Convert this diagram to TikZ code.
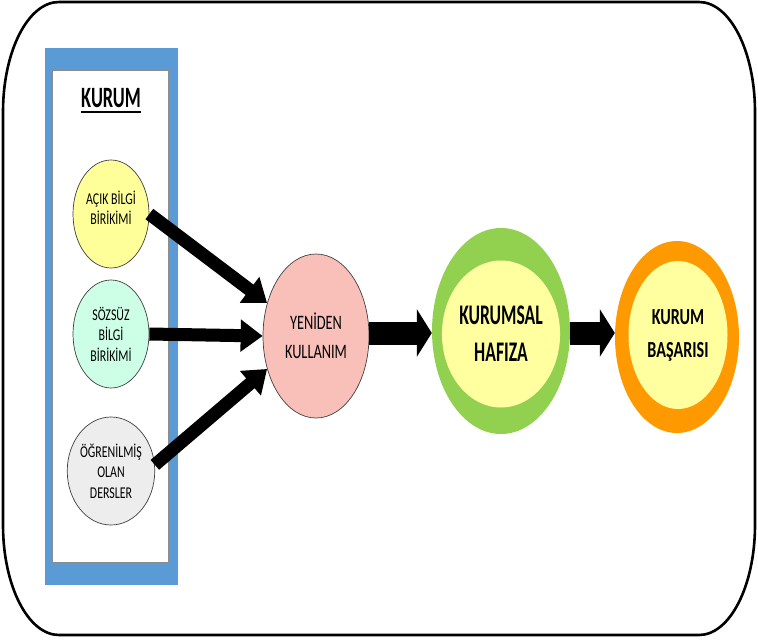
\documentclass[tikz,border=0pt]{standalone}
\usepackage{fontspec}
\usetikzlibrary{arrows.meta,shapes.geometric}
% condensed Carlito cuts for the labels
\newfontfamily\narrowest[FakeStretch=0.62]{Carlito}
\newfontfamily\narrow[FakeStretch=0.70]{Carlito}
\newfontfamily\semi[FakeStretch=0.72]{Carlito}
\definecolor{panelblue}{HTML}{5B9BD5}
\definecolor{paleyellow}{HTML}{FFFF99}
\definecolor{mint}{HTML}{CCFFE6}
\definecolor{lightgrey}{HTML}{EDEDED}
\definecolor{salmon}{HTML}{F8C0B8}
\definecolor{leafgreen}{HTML}{92D050}
\definecolor{amber}{HTML}{FF9900}
\definecolor{cream}{HTML}{FFFFA0}
\begin{document}
\begin{tikzpicture}[x=1pt,y=-1pt,
  frame/.style={line width=2.6pt},
  source/.style={ellipse,draw=black!75,line width=0.7pt,inner sep=0pt,
    minimum width=76pt,minimum height=108pt,align=center,
    font=\semi\fontsize{16.5}{20.5}\selectfont},
  hub/.style={ellipse,draw=black!75,line width=0.7pt,fill=salmon,inner sep=0pt,
    minimum width=106pt,minimum height=164pt,align=center,
    font=\narrow\fontsize{20.5}{29}\selectfont},
  ring/.style={ellipse,inner sep=0pt},
  core/.style={ellipse,inner sep=0pt,fill=cream,align=center},
  feed/.style={line width=13pt,-{Triangle[width=31pt,length=22pt]}},
  block/.style={line width=23pt,-{Triangle[width=47pt,length=15pt]}}]
\useasboundingbox (0,0) rectangle (758,640);

% outer frame with elliptical corners
\draw[frame] (59,2) -- (699,2)
  arc[start angle=270,end angle=360,x radius=56,y radius=110] -- (755,525)
  arc[start angle=0,end angle=90,x radius=56,y radius=110] -- (59,635)
  arc[start angle=90,end angle=180,x radius=56,y radius=110] -- (3,112)
  arc[start angle=180,end angle=270,x radius=56,y radius=110] -- cycle;

% organisation panel
\fill[panelblue] (45,48) rectangle (178,585);
\draw[fill=white,draw=black!45,line width=0.8pt] (52.5,70.5) rectangle (168,562);
\node[inner sep=0pt,anchor=base,font=\narrowest\bfseries\fontsize{29.5}{32}\selectfont]
  (kurum) at (111,107) {KURUM};
\draw[line width=2pt] ([yshift=-5pt]kurum.base west) -- ([yshift=-5pt]kurum.base east);

% knowledge sources
\node[source,fill=paleyellow] (acik) at (111,214) {AÇIK BİLGİ\\BİRİKİMİ\\[-8pt]};
\node[source,fill=mint] (sozsuz) at (111,334) {SÖZSÜZ\\BİLGİ\\BİRİKİMİ};
\node[source,fill=lightgrey] (ogren) at (111,471) {ÖĞRENİLMİŞ\\OLAN\\DERSLER};

% reuse
\node[hub] (yeniden) at (316,336) {YENİDEN\\KULLANIM};

% organisational memory
\node[ring,fill=leafgreen,minimum width=138pt,minimum height=206pt] (hafiza) at (501,331) {};
\node[core,minimum width=102pt,minimum height=147pt,
  font=\narrowest\bfseries\fontsize{28.4}{37}\selectfont] (hafizain) at (501,334) {KURUMSAL\\HAFIZA};

% organisational success
\node[ring,fill=amber,minimum width=124pt,minimum height=192pt] (basari) at (677,337) {};
\node[core,minimum width=99pt,minimum height=148pt,
  font=\narrow\bfseries\fontsize{23}{33}\selectfont] (basariin) at (678,335) {KURUM\\BAŞARISI};

% connectors
\draw[feed] (acik.east) -- (yeniden.146);
\draw[feed] (sozsuz.east) -- (yeniden.west);
\draw[feed] (ogren.8) -- (yeniden.214);
\draw[block] (yeniden.east |- 0,333) -- (hafiza.west |- 0,333);
\draw[block] (hafiza.east |- 0,333) -- (basari.west |- 0,333);
\end{tikzpicture}
\end{document}
